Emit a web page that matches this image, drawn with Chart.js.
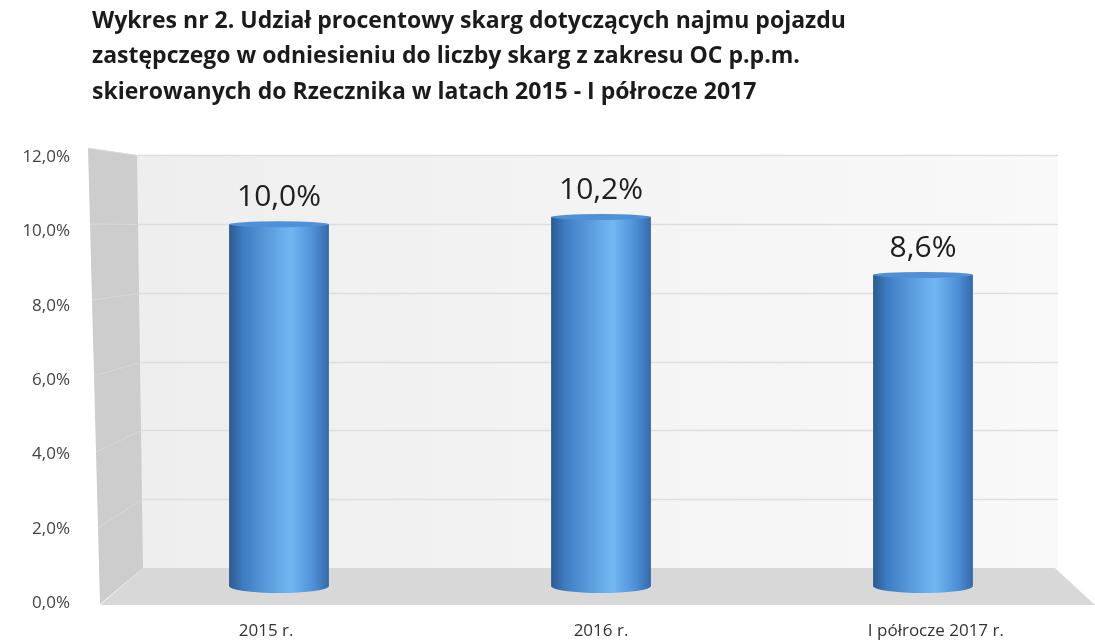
<!DOCTYPE html>
<html>
<head>
<meta charset="utf-8">
<script src="https://cdn.jsdelivr.net/npm/chart.js@4.4.1/dist/chart.umd.min.js"></script>
<style>
  body { margin: 0; background: #fff; }
  #wrap { width: 1095px; height: 642px; }
</style>
</head>
<body>
<div id="wrap"><canvas id="udzial" width="1095" height="642"></canvas></div>
<script>
const categories = ['2015 r.', '2016 r.', 'I półrocze 2017 r.'];
const shares = [10.0, 10.2, 8.6];
const yTicks = [0, 2, 4, 6, 8, 10, 12];
const titleLines = [
  'Wykres nr 2. Udział procentowy skarg dotyczących najmu pojazdu',
  'zastępczego w odniesieniu do liczby skarg z zakresu OC p.p.m.',
  'skierowanych do Rzecznika w latach 2015 - I półrocze 2017'
];
const BAR_FRACTION = 0.31;

const fmt = v => v.toFixed(1).replace('.', ',') + '%';

// cylinder shading, left to right
function barGradient(ctx, x0, x1) {
  const g = ctx.createLinearGradient(x0, 0, x1, 0);
  g.addColorStop(0, '#2c5a8f');
  g.addColorStop(0.14, '#3e7cc2');
  g.addColorStop(0.5, '#66aae8');
  g.addColorStop(0.62, '#72b6f2');
  g.addColorStop(0.85, '#4d8fd6');
  g.addColorStop(1, '#3569a8');
  return g;
}

// title in the top-left corner
const titlePlugin = {
  id: 'titleText',
  afterDraw(chart) {
    const ctx = chart.ctx;
    ctx.save();
    ctx.fillStyle = '#1b1b1b';
    ctx.font = 'bold 23px "Open Sans", sans-serif';
    ctx.textBaseline = 'middle';
    titleLines.forEach((t, i) => ctx.fillText(t, 92, 21 + i * 35.5));
    ctx.restore();
  }
};

// grey side wall, floor and the back wall with its grid;
// axis labels sit on the front edges of the box
const wallsPlugin = {
  id: 'walls',
  beforeDraw(chart) {
    const ctx = chart.ctx;
    const a = chart.chartArea;
    const y = chart.scales.y;
    const x = chart.scales.x;
    const backTop = 155, backBottom = 568;
    const backLeftTop = 137, backLeftBottom = 143;
    const backRight = 1058;
    const depth = v => (a.bottom - y.getPixelForValue(v)) / (a.bottom - a.top);
    ctx.save();
    // back wall
    const bg = ctx.createLinearGradient(backLeftTop, 0, backRight, 0);
    bg.addColorStop(0, '#eeeeee');
    bg.addColorStop(1, '#f9f9f9');
    ctx.fillStyle = bg;
    ctx.fillRect(backLeftTop, backTop, backRight - backLeftTop, backBottom - backTop);
    // left wall
    ctx.fillStyle = '#cdcdcd';
    ctx.beginPath();
    ctx.moveTo(88, 148);
    ctx.lineTo(backLeftTop, backTop);
    ctx.lineTo(backLeftBottom, backBottom);
    ctx.lineTo(100, 604);
    ctx.closePath();
    ctx.fill();
    // floor
    ctx.fillStyle = '#d8d8d8';
    ctx.beginPath();
    ctx.moveTo(backLeftBottom, backBottom);
    ctx.lineTo(backRight - 3, backBottom);
    ctx.lineTo(1095, 605);
    ctx.lineTo(100, 605);
    ctx.closePath();
    ctx.fill();
    // grid lines projected onto the back wall
    yTicks.forEach(v => {
      if (v === 0) return;
      const t = depth(v);
      const by = Math.round(backBottom - t * (backBottom - backTop)) + 0.5;
      const fx = 100 - t * 12;
      const fy = 604 - t * (604 - 148);
      const bx = backLeftBottom - t * (backLeftBottom - backLeftTop);
      ctx.strokeStyle = '#dedede';
      ctx.lineWidth = 1.5;
      ctx.beginPath();
      ctx.moveTo(bx, by);
      ctx.lineTo(backRight, by);
      ctx.stroke();
      ctx.strokeStyle = 'rgba(220,220,220,0.8)';
      ctx.lineWidth = 1;
      ctx.beginPath();
      ctx.moveTo(fx, fy);
      ctx.lineTo(bx, by);
      ctx.stroke();
    });
    // value axis labels along the front edge of the side wall
    ctx.fillStyle = '#444';
    ctx.font = '17px "Open Sans", sans-serif';
    ctx.textAlign = 'right';
    ctx.textBaseline = 'middle';
    y.ticks.forEach(tk => {
      const t = depth(tk.value);
      ctx.fillText(fmt(tk.value), 70, 603 - t * (603 - 157));
    });
    // category labels under the front edge of the floor
    const mid = (a.left + a.right) / 2;
    ctx.fillStyle = '#333';
    ctx.textAlign = 'center';
    categories.forEach((c, i) => {
      const cx = x.getPixelForValue(i);
      ctx.fillText(c, mid + (cx - mid) * 1.04, 631);
    });
    ctx.restore();
  }
};

// rounded bottoms and tops of the cylinders, plus value labels
const cylinderPlugin = {
  id: 'cylinders',
  afterDatasetsDraw(chart) {
    const ctx = chart.ctx;
    const meta = chart.getDatasetMeta(0);
    ctx.save();
    meta.data.forEach((bar, i) => {
      const half = bar.width / 2;
      const x0 = bar.x - half, x1 = bar.x + half;
      // bottom curve
      ctx.fillStyle = barGradient(ctx, x0, x1);
      ctx.beginPath();
      ctx.ellipse(bar.x, bar.base, half, 7, 0, 0, Math.PI);
      ctx.fill();
      // top face
      ctx.fillStyle = '#4f90d6';
      ctx.beginPath();
      ctx.ellipse(bar.x, bar.y, half, 3, 0, 0, Math.PI * 2);
      ctx.fill();
      // value label
      ctx.fillStyle = '#1e1e1e';
      ctx.font = '30px "Open Sans", sans-serif';
      ctx.textAlign = 'center';
      ctx.textBaseline = 'alphabetic';
      ctx.fillText(fmt(shares[i]), bar.x, bar.y - 18);
    });
    ctx.restore();
  }
};

new Chart(document.getElementById('udzial'), {
  type: 'bar',
  data: {
    labels: categories,
    datasets: [{
      data: shares,
      backgroundColor: c => {
        const area = c.chart.chartArea;
        const xs = c.chart.scales.x;
        if (!area || !xs) return '#4f90d6';
        const cx = xs.getPixelForValue(c.dataIndex);
        const half = (area.right - area.left) / categories.length * BAR_FRACTION / 2;
        if (!isFinite(cx) || !isFinite(half)) return '#4f90d6';
        return barGradient(c.chart.ctx, cx - half, cx + half);
      },
      borderWidth: 0,
      categoryPercentage: 1,
      barPercentage: BAR_FRACTION
    }]
  },
  options: {
    responsive: false,
    animation: false,
    layout: { padding: { top: 152, left: 22, right: 11, bottom: 2 } },
    plugins: {
      legend: { display: false },
      tooltip: { enabled: false }
    },
    scales: {
      x: {
        afterFit: s => { s.height = 54; },
        grid: { display: false, drawTicks: false },
        border: { display: false },
        ticks: { display: false }
      },
      y: {
        min: 0,
        max: 12,
        afterFit: s => { s.width = 96; },
        afterBuildTicks: s => { s.ticks = yTicks.map(v => ({ value: v })); },
        grid: { display: false, drawTicks: false },
        border: { display: false },
        ticks: { display: false }
      }
    }
  },
  plugins: [wallsPlugin, cylinderPlugin, titlePlugin]
});
</script>
</body>
</html>
